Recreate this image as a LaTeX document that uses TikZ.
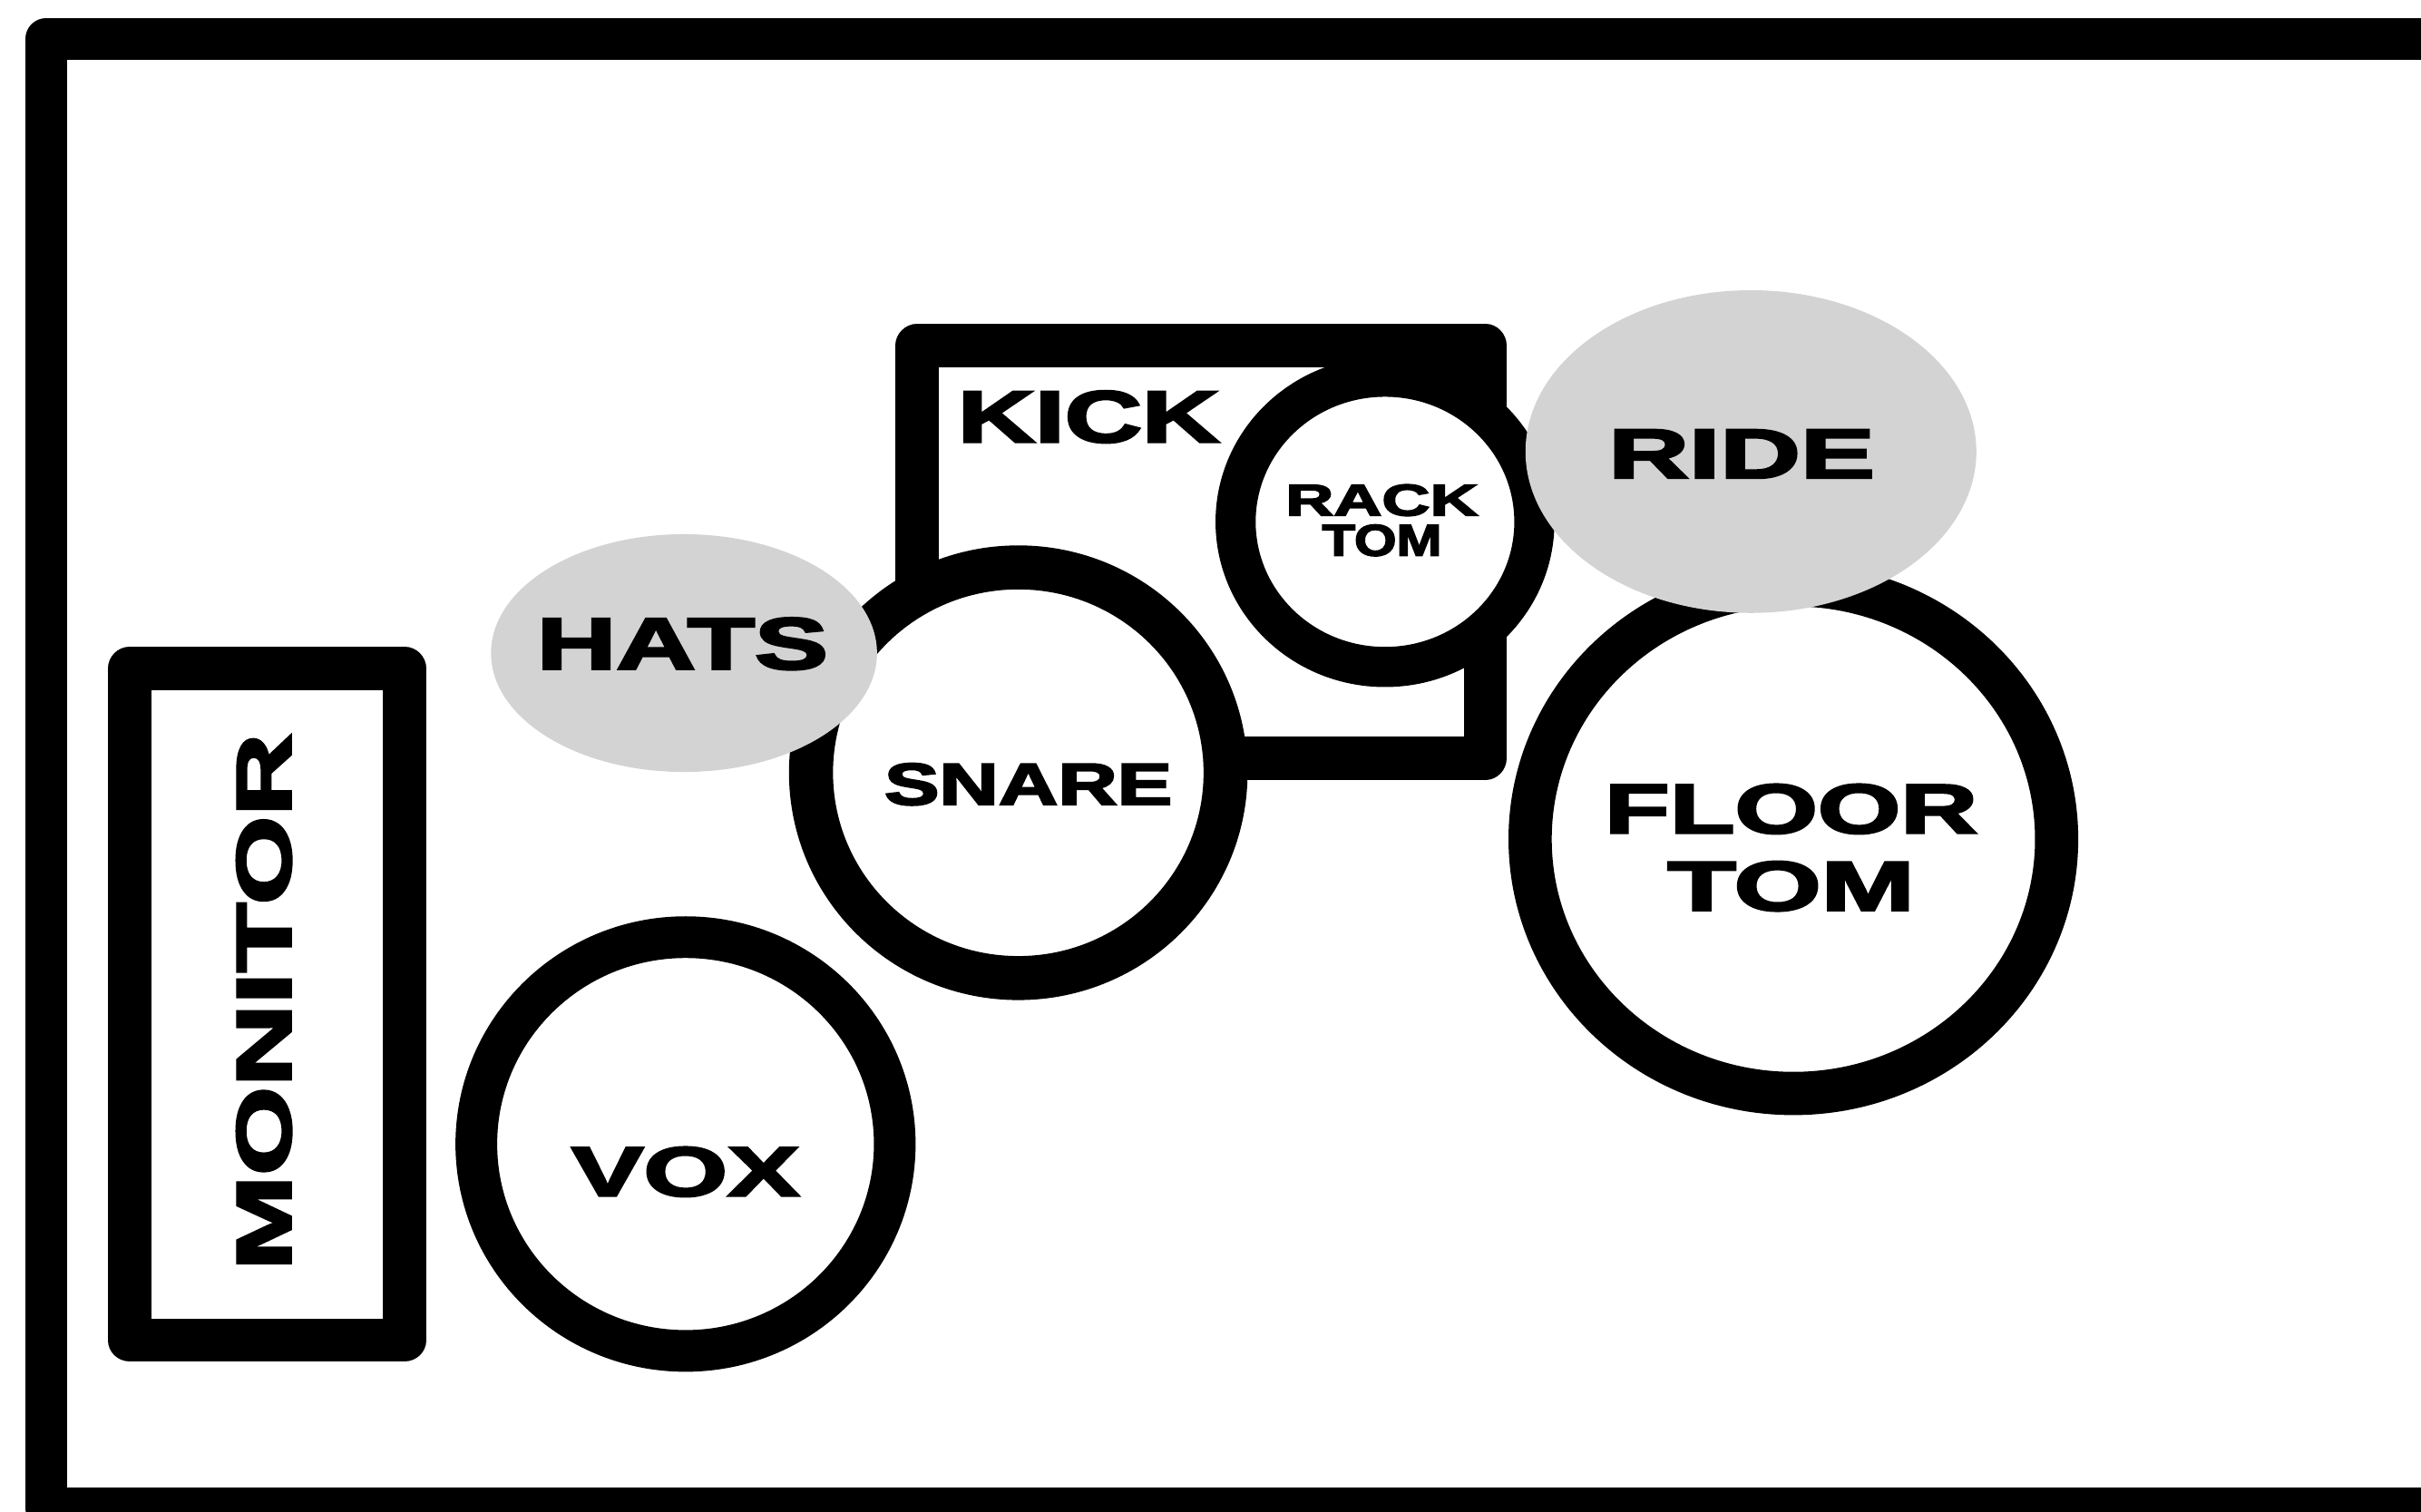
\documentclass[tikz,border=0pt]{standalone}
\usepackage{graphicx}
\usepackage{fontspec}
\newfontfamily\labfont{Liberation Sans}[UprightFont={* Bold}, FakeBold=3]
\usetikzlibrary{shapes.geometric}
\definecolor{cymbalgray}{RGB}{211,211,211}
\newcommand\wtxt[2]{\scalebox{#1}[1]{#2}}
\tikzset{
  ring/.style={ellipse, draw=black, line width=28pt, fill=white, inner sep=0pt, outer sep=0pt},
  cymbal/.style={ellipse, fill=cymbalgray, draw=none, inner sep=0pt, outer sep=0pt},
  box/.style={draw=black, line width=28pt, line join=round},
  lab/.style={inner sep=0pt, outer sep=0pt, align=center, text=black,
    execute at begin node={\setlength{\lineskiplimit}{-100pt}}}
}
\begin{document}
\begin{tikzpicture}[x=1pt, y=-1pt]
\useasboundingbox (0,0) rectangle (1568,979);
\clip (0,0) rectangle (1568,979);
\fill[white] (0,0) rectangle (1568,979);
% outer frame
\coordinate (frameTL) at (30,25);
\coordinate (frameBR) at (1620,977);
\draw[box, line width=27pt] (frameTL) rectangle (frameBR);
% monitor
\coordinate (monTL) at (84,433);
\coordinate (monBR) at (262,868);
\draw[box] (monTL) rectangle (monBR);
% kick box
\coordinate (kickTL) at (594,224);
\coordinate (kickBR) at (962,491);
\coordinate (kickC1) at (912,224);
\coordinate (kickC2) at (962,300);
\draw[box] (kickTL) rectangle (kickBR);
\fill[black] (kickC1) rectangle (kickC2);
% drums
\node[ring, line width=26pt, minimum width=193.5pt, minimum height=188pt] (rack) at (897,338) {};
\node[ring, line width=28.5pt, minimum width=268.5pt, minimum height=266pt] (snare) at (659.5,500.5) {};
\node[cymbal, minimum width=250pt, minimum height=154pt] (hats) at (443,423) {};
\node[ring, line width=27pt, minimum width=271pt, minimum height=268pt] (vox) at (444,741) {};
\node[ring, line width=28pt, minimum width=341pt, minimum height=329.5pt] (floor) at (1161.5,543.5) {};
\node[cymbal, minimum width=292pt, minimum height=209pt] (ride) at (1134,292.5) {};
% labels
\node[lab, font=\labfont\fontsize{50.3}{50.3}\selectfont, rotate=90] (montxt) at (171,649) {\wtxt{1.47}{MONITOR}};
\node[lab, font=\labfont\fontsize{47.5}{47.5}\selectfont] (kicktxt) at (705,270) {\wtxt{1.46}{KICK}};
\node[lab, font=\labfont\fontsize{28.8}{26}\selectfont] (racktxt) at (895,337) {\wtxt{1.5}{RACK}\\\wtxt{1.22}{TOM}};
\node[lab, font=\labfont\fontsize{47.5}{47.5}\selectfont] (hatstxt) at (442,417) {\wtxt{1.5}{HATS}};
\node[lab, font=\labfont\fontsize{38.3}{38.3}\selectfont] (snaretxt) at (666,508) {\wtxt{1.39}{SNARE}};
\node[lab, font=\labfont\fontsize{45.4}{45.4}\selectfont] (voxtxt) at (444,759) {\wtxt{1.54}{VOX}};
\node[lab, font=\labfont\fontsize{45.4}{45.4}\selectfont] (ridetxt) at (1128,294) {\wtxt{1.59}{RIDE}};
\node[lab, font=\labfont\fontsize{45.4}{50}\selectfont] (floortxt) at (1160,549) {\wtxt{1.52}{FLOOR}\\\wtxt{1.6}{TOM}};
\end{tikzpicture}
\end{document}
